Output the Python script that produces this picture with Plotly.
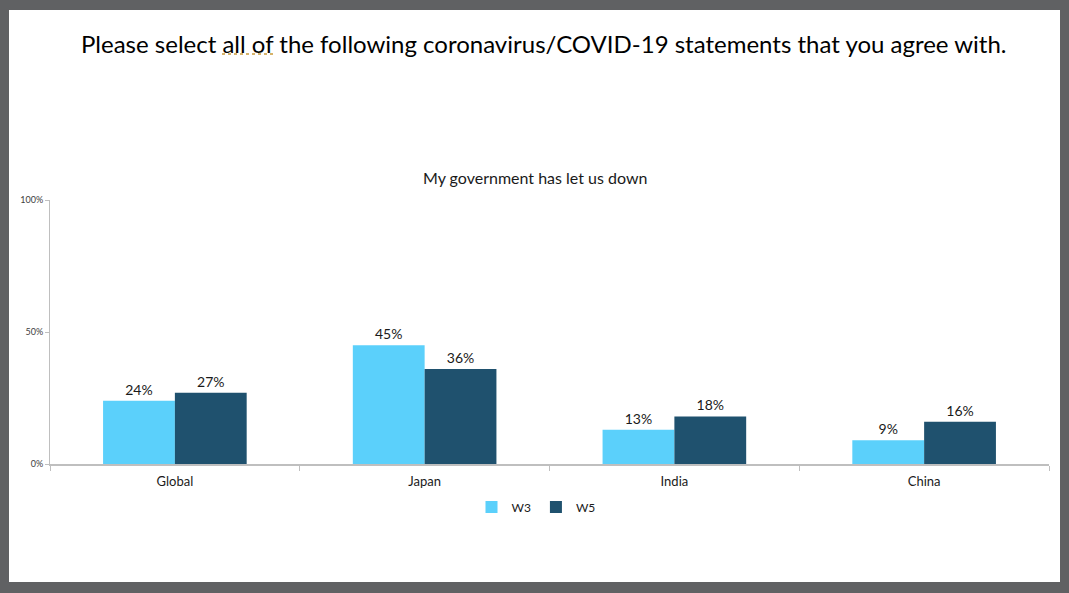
import plotly.graph_objects as go

categories = ["Global", "Japan", "India", "China"]
w3 = [24, 45, 13, 9]
w5 = [27, 36, 18, 16]
series_names = ["W3", "W5"]
y_ticks = [0, 50, 100]
y_tick_labels = ["0%", "50%", "100%"]

FONT = "Lato"
W, H = 1069, 593
L, R, T, B = 50, 20, 200, 129
pw, ph = W - L - R, H - T - B
GRAY = "#606163"

def px_x(x):
    return (x - L) / pw

def px_y(y):
    return (H - B - y) / ph

fig = go.Figure()
fig.add_trace(go.Bar(x=categories, y=w3, name=series_names[0], marker_color="#5BD0FB",
                     marker_line_width=0,
                     text=[f"{v}%" for v in w3], textposition="outside",
                     textfont=dict(size=14, color="#1a1a1a", family=FONT), cliponaxis=False))
fig.add_trace(go.Bar(x=categories, y=w5, name=series_names[1], marker_color="#1F516E",
                     marker_line_width=0,
                     text=[f"{v}%" for v in w5], textposition="outside",
                     textfont=dict(size=14, color="#1a1a1a", family=FONT), cliponaxis=False))

fig.update_layout(
    width=W, height=H,
    margin=dict(l=L, r=R, t=T, b=B),
    paper_bgcolor=GRAY,
    plot_bgcolor="rgba(0,0,0,0)",
    barmode="group", bargap=0.425, bargroupgap=0,
    font=dict(family=FONT, color="#1a1a1a"),
    showlegend=True,
    legend=dict(orientation="h", x=px_x(536), xanchor="center", y=px_y(507), yanchor="middle",
                font=dict(size=12, family=FONT), bgcolor="rgba(0,0,0,0)",
                itemwidth=30, traceorder="normal"),
    shapes=[
        dict(type="rect", xref="paper", yref="paper",
             x0=px_x(9), x1=px_x(1060), y0=px_y(582), y1=px_y(10),
             fillcolor="white", line=dict(width=0), layer="below"),
        dict(type="line", xref="paper", yref="paper",
             x0=px_x(222), x1=px_x(276), y0=px_y(54), y1=px_y(54),
             line=dict(color="#C99A3A", width=1.5, dash="dot")),
    ],
    annotations=[
        dict(text="Please select all of the following coronavirus/COVID-19 statements that you agree with.",
             xref="paper", yref="paper", x=px_x(543), y=px_y(43), xanchor="center", yanchor="middle",
             showarrow=False, font=dict(size=24, family=FONT, color="#000000")),
        dict(text="My government has let us down",
             xref="paper", yref="paper", x=px_x(535), y=px_y(177), xanchor="center", yanchor="middle",
             showarrow=False, font=dict(size=16, family=FONT, color="#1a1a1a")),
    ],
)
fig.update_yaxes(range=[0, 100], tickvals=y_ticks, ticktext=y_tick_labels, showgrid=False,
                 showline=True, linecolor="#BFBFBF", linewidth=1, ticks="outside", ticklen=4,
                 tickcolor="#BFBFBF", tickfont=dict(size=9, color="#404040", family=FONT), zeroline=False)
fig.update_xaxes(showgrid=False, showline=True, linecolor="#BFBFBF", linewidth=1.5,
                 ticks="outside", tickson="boundaries", ticklen=5, tickcolor="#BFBFBF",
                 ticklabelstandoff=5,
                 tickfont=dict(size=13, color="#1a1a1a", family=FONT))

fig.write_html("out.html", config={"displayModeBar": False},
               post_script="document.body.style.margin='0px';document.body.style.background='" + GRAY + "';")
